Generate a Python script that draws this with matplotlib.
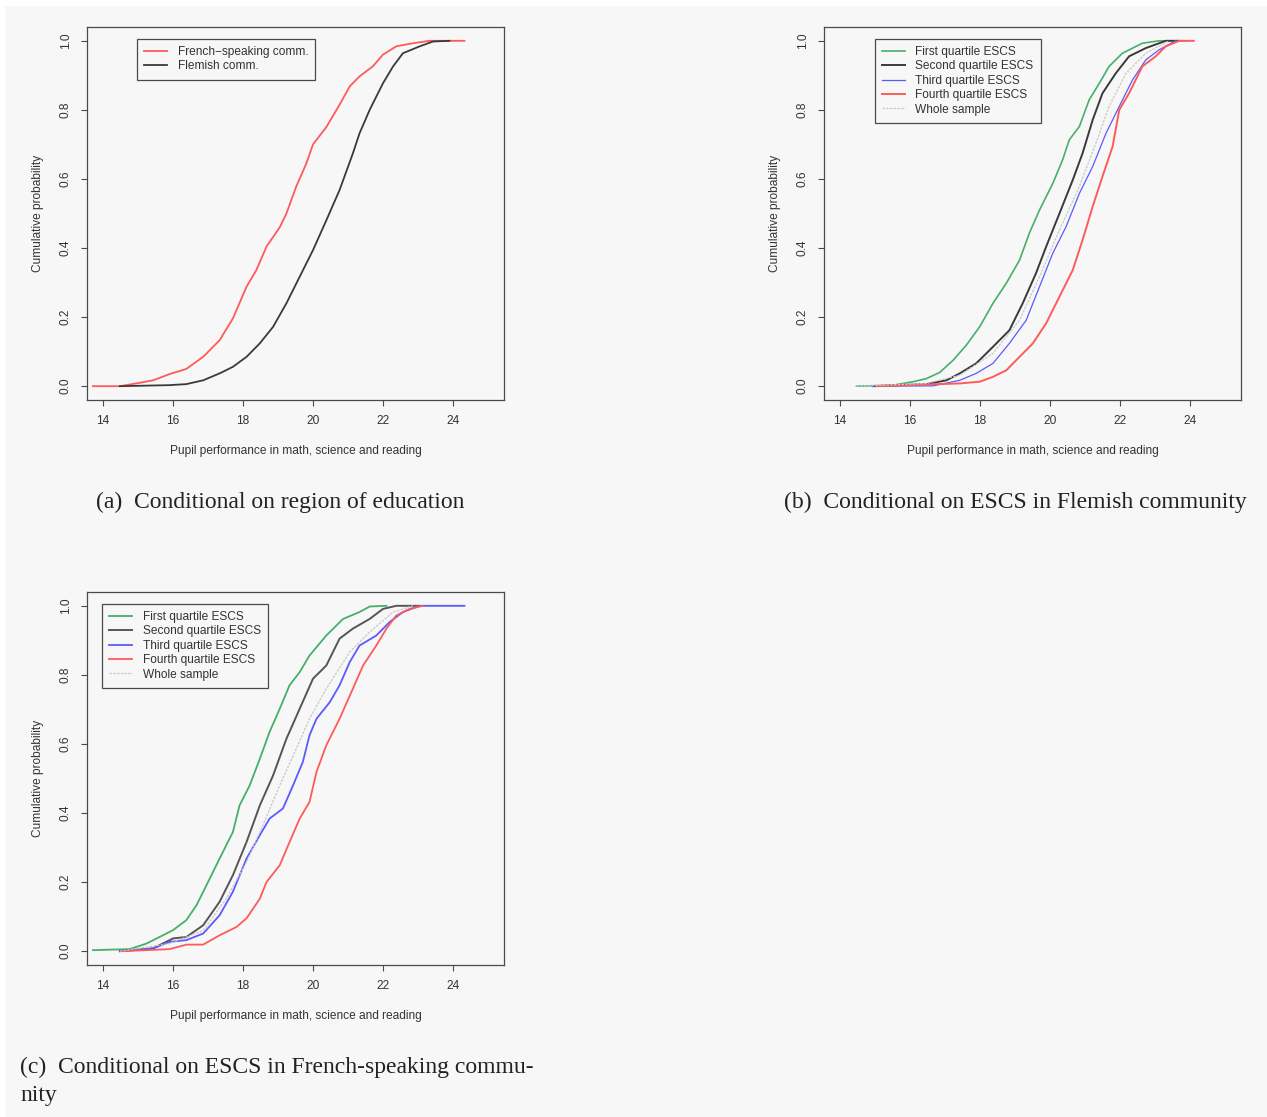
import matplotlib
matplotlib.use("Agg")
import matplotlib.pyplot as plt
from matplotlib.patches import Rectangle
from matplotlib.ticker import FormatStrFormatter

# ---- data -----------------------------------------------------------------

# (a) region of education
fr_x = [13.71, 14.48, 14.95, 15.43, 15.9, 16.38, 16.86, 17.33, 17.71, 18.1, 18.38, 18.67,
        19.05, 19.24, 19.52, 19.81, 20.0, 20.38, 20.76, 21.05, 21.33, 21.71, 22.0, 22.38,
        22.86, 23.33, 24.33]
fr_y = [0.0, 0.0, 0.008, 0.017, 0.035, 0.05, 0.085, 0.133, 0.196, 0.288, 0.336, 0.404,
        0.46, 0.50, 0.578, 0.645, 0.70, 0.75, 0.815, 0.868, 0.897, 0.926, 0.96, 0.984,
        0.993, 1.0, 1.0]
fl_x = [14.48, 15.9, 16.38, 16.86, 17.33, 17.71, 18.1, 18.48, 18.86, 19.24, 19.62, 20.0,
        20.38, 20.76, 21.14, 21.33, 21.62, 22.0, 22.29, 22.57, 23.05, 23.43, 23.9]
fl_y = [0.0, 0.003, 0.006, 0.017, 0.037, 0.056, 0.085, 0.124, 0.172, 0.24, 0.317, 0.394,
        0.48, 0.568, 0.674, 0.732, 0.80, 0.877, 0.926, 0.964, 0.984, 0.998, 1.0]

# (b) ESCS quartiles, Flemish community
b_q1_x = [14.47, 15.52, 16.09, 16.47, 16.85, 17.23, 17.61, 17.99, 18.37, 18.75, 19.13, 19.41,
          19.7, 20.08, 20.36, 20.55, 20.84, 21.12, 21.41, 21.69, 22.07, 22.64, 23.12, 23.88]
b_q1_y = [0.0, 0.003, 0.013, 0.022, 0.04, 0.075, 0.119, 0.172, 0.24, 0.298, 0.365, 0.443,
          0.51, 0.587, 0.655, 0.713, 0.752, 0.829, 0.877, 0.926, 0.964, 0.993, 1.0, 1.0]
b_q2_x = [14.95, 16.47, 17.04, 17.42, 17.89, 18.37, 18.84, 19.22, 19.6, 19.89, 20.27, 20.65,
          20.93, 21.22, 21.5, 21.88, 22.26, 22.74, 23.31, 23.69]
b_q2_y = [0.0, 0.006, 0.017, 0.037, 0.066, 0.114, 0.162, 0.24, 0.327, 0.404, 0.50, 0.597,
          0.674, 0.771, 0.848, 0.906, 0.955, 0.979, 1.0, 1.0]
b_q3_x = [14.95, 16.66, 17.42, 17.89, 18.37, 18.84, 19.32, 19.7, 20.08, 20.46, 20.84, 21.22,
          21.6, 21.98, 22.36, 22.74, 23.12, 23.59]
b_q3_y = [0.0, 0.001, 0.017, 0.037, 0.066, 0.124, 0.191, 0.288, 0.385, 0.462, 0.558, 0.636,
          0.732, 0.81, 0.887, 0.945, 0.974, 1.0]
b_q4_x = [15.04, 17.42, 17.99, 18.37, 18.75, 19.13, 19.51, 19.89, 20.27, 20.65, 20.93, 21.22,
          21.5, 21.79, 21.98, 22.26, 22.64, 23.02, 23.31, 23.69, 24.11]
b_q4_y = [0.0, 0.008, 0.013, 0.027, 0.046, 0.085, 0.124, 0.182, 0.259, 0.336, 0.423, 0.52,
          0.607, 0.694, 0.80, 0.848, 0.926, 0.955, 0.984, 1.0, 1.0]
b_all_x = [14.47, 16.47, 17.42, 18.37, 19.13, 19.7, 20.27, 20.84, 21.31, 21.69, 22.17, 22.74, 23.4]
b_all_y = [0.0, 0.008, 0.032, 0.095, 0.191, 0.317, 0.452, 0.578, 0.703, 0.81, 0.906, 0.964, 1.0]

# (c) ESCS quartiles, French-speaking community
c_q1_x = [13.71, 14.76, 15.24, 15.71, 16.0, 16.38, 16.67, 16.95, 17.33, 17.71, 17.9, 18.19,
          18.48, 18.76, 19.05, 19.33, 19.62, 19.9, 20.38, 20.86, 21.33, 21.62, 22.1]
c_q1_y = [0.003, 0.006, 0.022, 0.046, 0.061, 0.09, 0.133, 0.19, 0.268, 0.345, 0.422, 0.48,
          0.557, 0.635, 0.702, 0.77, 0.808, 0.856, 0.914, 0.962, 0.982, 0.998, 1.0]
c_q2_x = [14.48, 15.43, 16.0, 16.38, 16.86, 17.33, 17.71, 18.1, 18.48, 18.86, 19.24, 19.62,
          20.0, 20.38, 20.76, 21.14, 21.62, 22.0, 22.38, 23.05]
c_q2_y = [0.0, 0.008, 0.037, 0.041, 0.075, 0.143, 0.22, 0.316, 0.422, 0.509, 0.615, 0.702,
          0.789, 0.827, 0.905, 0.934, 0.962, 0.991, 1.0, 1.0]
c_q3_x = [14.48, 15.43, 15.9, 16.38, 16.86, 17.33, 17.71, 18.1, 18.48, 18.76, 19.14, 19.43,
          19.71, 19.9, 20.1, 20.48, 20.76, 21.05, 21.33, 21.81, 22.19, 22.57, 23.05, 24.33]
c_q3_y = [0.0, 0.008, 0.027, 0.032, 0.051, 0.104, 0.172, 0.268, 0.336, 0.384, 0.413, 0.48,
          0.548, 0.625, 0.673, 0.721, 0.77, 0.837, 0.885, 0.914, 0.953, 0.982, 1.0, 1.0]
c_q4_x = [14.57, 15.9, 16.38, 16.86, 17.33, 17.81, 18.1, 18.48, 18.67, 19.05, 19.33, 19.62,
          19.9, 20.1, 20.38, 20.76, 21.14, 21.43, 21.81, 22.1, 22.38, 22.76, 23.14]
c_q4_y = [0.0, 0.006, 0.019, 0.019, 0.046, 0.07, 0.095, 0.152, 0.2, 0.249, 0.316, 0.384,
          0.432, 0.519, 0.596, 0.673, 0.76, 0.827, 0.885, 0.934, 0.972, 0.991, 1.0]
c_all_x = [14.48, 15.9, 16.86, 17.52, 18.1, 18.57, 19.05, 19.52, 19.9, 20.38, 21.05, 21.62,
           22.29, 22.86]
c_all_y = [0.0, 0.022, 0.06, 0.152, 0.258, 0.365, 0.48, 0.586, 0.673, 0.76, 0.866, 0.924,
           0.982, 1.0]

x_ticks = [14, 16, 18, 20, 22, 24]
y_ticks = [0.0, 0.2, 0.4, 0.6, 0.8, 1.0]
x_label = "Pupil performance in math, science and reading"
y_label = "Cumulative probability"
quart_labels = ["First quartile ESCS", "Second quartile ESCS", "Third quartile ESCS",
                "Fourth quartile ESCS", "Whole sample"]

# ---- styles ----------------------------------------------------------------
BG = "#f7f7f7"
EDGE = "#4a4a4a"
RED = "#ff5a5a"
BLACK = "#3a3a3a"
GREEN = "#45b06a"
BLUE = "#5a5aff"
GRAY = "#c8c8c8"
FS = 8.6  # small sans text (ticks, labels, legends)

W, H = 1267, 1117
fig = plt.figure(figsize=(W / 100, H / 100), dpi=100, facecolor="white")
fig.patches.append(Rectangle((5 / W, 0), 1, 1 - 6 / H, transform=fig.transFigure,
                             facecolor=BG, edgecolor="none", zorder=-10))

SANS = ["Liberation Sans", "DejaVu Sans"]
SERIF = ["Liberation Serif", "DejaVu Serif"]


def make_axes(left_px, top_px):
    ax = fig.add_axes([left_px / W, 1 - (top_px + 373) / H, 417 / W, 373 / H])
    ax.set_facecolor(BG)
    ax.set_xlim(13.54, 25.46)
    ax.set_ylim(-0.04, 1.04)
    ax.set_xticks(x_ticks)
    ax.set_yticks(y_ticks)
    ax.yaxis.set_major_formatter(FormatStrFormatter("%.1f"))
    for s in ax.spines.values():
        s.set_color(EDGE)
        s.set_linewidth(0.9)
    ax.tick_params(length=4, width=0.8, color=EDGE, labelsize=FS, labelcolor="#333333")
    ax.tick_params(axis="x", pad=7)
    ax.tick_params(axis="y", pad=7, labelrotation=90)
    for t in ax.get_xticklabels() + ax.get_yticklabels():
        t.set_fontfamily(SANS)
    for t in ax.get_yticklabels():
        t.set_va("center")
    ax.set_xlabel(x_label, fontsize=FS, family=SANS, color="#333333")
    ax.set_ylabel(y_label, fontsize=FS, family=SANS, color="#333333")
    ax.xaxis.set_label_coords(0.5, -51 / 373)
    ax.xaxis.label.set_va("center")
    ax.yaxis.set_label_coords(-49 / 417, 0.5)
    ax.yaxis.label.set_va("center")
    return ax


def add_legend(ax, left_frac):
    leg = ax.legend(loc="upper left", bbox_to_anchor=(left_frac, 0.968), frameon=True,
                    fancybox=False, edgecolor=EDGE, facecolor=BG, framealpha=1,
                    prop={"family": SANS, "size": FS}, handlelength=1.9,
                    handletextpad=0.9, borderpad=0.6, labelspacing=0.2,
                    borderaxespad=0)
    leg.get_frame().set_linewidth(0.9)
    for t in leg.get_texts():
        t.set_color("#333333")
    return leg


# (a)
ax_a = make_axes(87, 27)
ax_a.plot(fr_x, fr_y, color=RED, lw=1.3, label="French\u2212speaking comm.")
ax_a.plot(fl_x, fl_y, color=BLACK, lw=1.3, label="Flemish comm.")
add_legend(ax_a, 0.12)

# (b)
ax_b = make_axes(824, 27)
ax_b.plot(b_q1_x, b_q1_y, color=GREEN, lw=1.2, label=quart_labels[0])
ax_b.plot(b_q2_x, b_q2_y, color=BLACK, lw=1.4, label=quart_labels[1])
ax_b.plot(b_q3_x, b_q3_y, color=BLUE, lw=0.9, label=quart_labels[2])
ax_b.plot(b_q4_x, b_q4_y, color=RED, lw=1.4, label=quart_labels[3])
ax_b.plot(b_all_x, b_all_y, color=GRAY, lw=0.9, ls=(0, (2, 1)), label=quart_labels[4])
add_legend(ax_b, 0.122)

# (c)
ax_c = make_axes(87, 592)
ax_c.plot(c_q1_x, c_q1_y, color=GREEN, lw=1.3, label=quart_labels[0])
ax_c.plot(c_q2_x, c_q2_y, color="#555555", lw=1.4, label=quart_labels[1])
ax_c.plot(c_q3_x, c_q3_y, color=BLUE, lw=1.3, label=quart_labels[2])
ax_c.plot(c_q4_x, c_q4_y, color=RED, lw=1.3, label=quart_labels[3])
ax_c.plot(c_all_x, c_all_y, color=GRAY, lw=0.9, ls=(0, (2, 1)), label=quart_labels[4])
add_legend(ax_c, 0.036)

# captions
CAP = 17
fig.text(280 / W, 1 - 502 / H, "(a)  Conditional on region of education", ha="center",
         va="center", fontsize=CAP, family=SERIF, color="#222222")
fig.text(1015 / W, 1 - 502 / H, "(b)  Conditional on ESCS in Flemish community", ha="center",
         va="center", fontsize=CAP, family=SERIF, color="#222222")
fig.text(20 / W, 1 - 1067 / H, "(c)  Conditional on ESCS in French-speaking commu-", ha="left",
         va="center", fontsize=CAP, family=SERIF, color="#222222")
fig.text(20 / W, 1 - 1096 / H, "nity", ha="left", va="center", fontsize=CAP, family=SERIF,
         color="#222222")

fig.savefig("out.png", dpi=100, facecolor="white")
